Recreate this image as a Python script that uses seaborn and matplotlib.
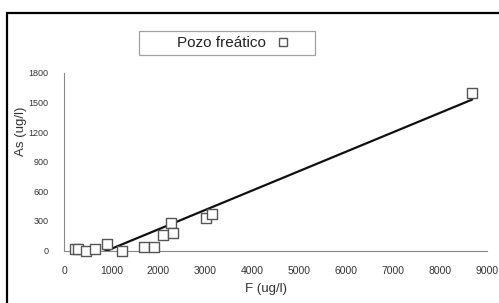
import numpy as np
import pandas as pd
import seaborn as sns
import matplotlib
matplotlib.use("Agg")
import matplotlib.pyplot as plt
from matplotlib.patches import Rectangle
from matplotlib.lines import Line2D

f_vals = [234, 287, 455, 653, 902, 1234, 1702, 1915, 2106, 2270, 2319, 3009, 3136, 8685]
as_vals = [15, 15, 0, 15, 66, 0, 39, 39, 157, 282, 180, 327, 370, 1594]
trend_coef = [0.197, -180.0]   # slope, intercept of the linear trendline
x_ticks = [0, 1000, 2000, 3000, 4000, 5000, 6000, 7000, 8000, 9000]
y_ticks = [0, 300, 600, 900, 1200, 1500, 1800]
series_label = "Pozo freático"

df = pd.DataFrame({"F": f_vals, "As": as_vals})
x_line = np.array([min(f_vals), max(f_vals)], dtype=float)
trend_df = pd.DataFrame({"F": x_line, "As": trend_coef[0] * x_line + trend_coef[1]})

sns.set_style("white")
plt.rcParams['font.family'] = ['Liberation Sans', 'DejaVu Sans']

W, H = 499, 303
fig = plt.figure(figsize=(W / 100, H / 100), dpi=100)
x0, x1, y0, y1 = 64.3, 487.0, 250.5, 73.0
ax = fig.add_axes([x0 / W, 1 - y0 / H, (x1 - x0) / W, (y0 - y1) / H])

sns.lineplot(data=trend_df, x="F", y="As", ax=ax, color="#111111", lw=1.6, zorder=3)
sns.scatterplot(data=df, x="F", y="As", ax=ax, marker="s", s=42,
                facecolor="white", edgecolor="#555555", linewidth=1.0,
                clip_on=False, zorder=5)

ax.set_xlim(0, 9000)
ax.set_ylim(0, 1800)
ax.set_xticks(x_ticks)
ax.set_yticks(y_ticks)
ax.tick_params(axis="both", colors="#333333", length=3, width=0.7, direction="out")
ax.tick_params(axis="y", labelsize=6.5, pad=8.5)
ax.tick_params(axis="x", labelsize=7.5, pad=8)
for s in ["top", "right"]:
    ax.spines[s].set_visible(False)
for s in ["left", "bottom"]:
    ax.spines[s].set_color("#888888")
    ax.spines[s].set_linewidth(0.8)
ax.set_xlabel("F (ug/l)", fontsize=9.5, color="#333333")
ax.xaxis.set_label_coords((266 - x0) / (x1 - x0), -(283 - y0) / (y0 - y1))
ax.set_ylabel("As (ug/l)", fontsize=9.5, color="#333333")
ax.yaxis.set_label_coords(-(x0 - 27) / (x1 - x0), (y0 - 131) / (y0 - y1))

handle = Line2D([], [], marker="s", linestyle="none", markersize=6,
                markerfacecolor="white", markeredgecolor="#555555", markeredgewidth=1.0)
leg = fig.legend([handle], ["        " + series_label], loc="center",
                 bbox_to_anchor=(227 / W, 1 - 43 / H),
                 markerfirst=False, fontsize=11, frameon=True, fancybox=False,
                 edgecolor="#888888", borderpad=0.3, handletextpad=-0.69,
                 handlelength=3.6, borderaxespad=0)
leg.get_frame().set_linewidth(0.9)
for t in leg.get_texts():
    t.set_color("#222222")

fig.patches.append(Rectangle((7 / W, -0.1), 1.2, 1 - 13 / H + 0.1, transform=fig.transFigure,
                             fill=False, edgecolor="black", linewidth=1.6))

fig.savefig("out.png", dpi=100)
